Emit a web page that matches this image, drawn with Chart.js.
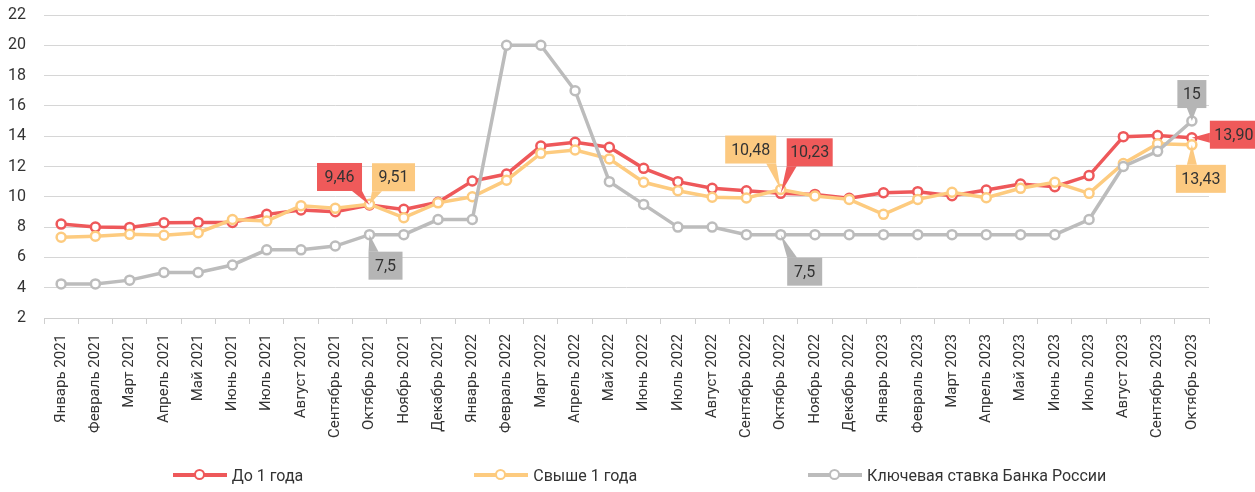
<!DOCTYPE html>
<html>
<head>
<meta charset="utf-8">
<script src="https://cdn.jsdelivr.net/npm/chart.js@4"></script>
<style>
  body { margin: 0; background: #fff; }
  #wrap { position: relative; width: 1255px; height: 492px; }
  #legend {
    position: absolute; left: 12px; top: 463px; width: 1255px;
    display: flex; justify-content: center; gap: 171px;
    font-family: Roboto, sans-serif; font-size: 16px; color: #333;
  }
  .item { display: flex; align-items: center; white-space: nowrap; }
  .mark { position: relative; width: 54px; height: 24px; margin-right: 5px; }
  .mark .ln { position: absolute; left: 0; right: 0; top: 10px; height: 4px; }
  .mark .pt { position: absolute; left: 21px; top: 6px; width: 7px; height: 7px;
    border-radius: 50%; background: #fff; border: 2.5px solid; }
</style>
</head>
<body>
<div id="wrap">
  <canvas id="chart" width="1255" height="492"></canvas>
  <div id="legend"></div>
</div>
<script>
const months = ['Январь', 'Февраль', 'Март', 'Апрель', 'Май', 'Июнь', 'Июль',
  'Август', 'Сентябрь', 'Октябрь', 'Ноябрь', 'Декабрь'];

const labels = [];
for (let y of [2021, 2022, 2023]) {
  for (let m of months) {
    if (y === 2023 && labels.length >= 34) break;
    labels.push(m + ' ' + y);
  }
}

// До 1 года
const shortRate = [8.2, 8.0, 7.98, 8.29, 8.31, 8.3, 8.84, 9.13, 9.02, 9.46, 9.17, 9.64,
  11.04, 11.5, 13.35, 13.6, 13.27, 11.88, 11.0, 10.56, 10.4, 10.23, 10.16, 9.9,
  10.27, 10.34, 10.07, 10.45, 10.84, 10.67, 11.4, 13.97, 14.04, 13.90];

// Свыше 1 года
const longRate = [7.33, 7.4, 7.52, 7.46, 7.63, 8.5, 8.4, 9.41, 9.24, 9.51, 8.62, 9.6,
  10.0, 11.1, 12.87, 13.09, 12.5, 10.96, 10.4, 9.97, 9.92, 10.48, 10.05, 9.83,
  8.84, 9.83, 10.3, 9.94, 10.56, 10.96, 10.23, 12.2, 13.5, 13.43];

// Ключевая ставка Банка России
const keyRate = [4.25, 4.25, 4.5, 5, 5, 5.5, 6.5, 6.5, 6.75, 7.5, 7.5, 8.5,
  8.5, 20, 20, 17, 11, 9.5, 8, 8, 7.5, 7.5, 7.5, 7.5,
  7.5, 7.5, 7.5, 7.5, 7.5, 7.5, 8.5, 12, 13, 15];

const red = 'rgb(238,88,90)';
const yellow = 'rgb(253,203,127)';
const grey = 'rgb(188,188,188)';

// callouts: dataset, index, text, box offset from point (centre), box width
const callouts = [
  {ds: 0, i: 9, text: '9,46', dx: -30, dy: -28, w: 45},
  {ds: 1, i: 9, text: '9,51', dx: 24, dy: -27, w: 43},
  {ds: 2, i: 9, text: '7,5', dx: 16, dy: 31, w: 34},
  {ds: 1, i: 21, text: '10,48', dx: -30, dy: -40, w: 51},
  {ds: 0, i: 21, text: '10,23', dx: 29, dy: -41, w: 46},
  {ds: 2, i: 21, text: '7,5', dx: 24, dy: 37, w: 35},
  {ds: 2, i: 33, text: '15', dx: 0, dy: -27, w: 29},
  {ds: 0, i: 33, text: '13,90', dx: 42, dy: -3, w: 48},
  {ds: 1, i: 33, text: '13,43', dx: 9, dy: 34, w: 50}
];
const boxColors = ['rgb(239,90,90)', 'rgb(252,201,128)', 'rgb(181,181,181)'];

const calloutPlugin = {
  id: 'callouts',
  afterDatasetsDraw(chart) {
    const ctx = chart.ctx;
    ctx.save();
    ctx.font = '16px Roboto, sans-serif';
    ctx.textAlign = 'center';
    ctx.textBaseline = 'middle';
    for (let c of callouts) {
      const p = chart.getDatasetMeta(c.ds).data[c.i];
      const h = 28;
      const cx = p.x + c.dx, cy = p.y + c.dy;
      const l = cx - c.w / 2, r = cx + c.w / 2, t = cy - h / 2, b = cy + h / 2;
      ctx.fillStyle = boxColors[c.ds];
      ctx.fillRect(l, t, c.w, h);
      // wedge
      ctx.beginPath();
      if (p.y > b || p.y < t) {
        const ey = p.y > b ? b : t;
        let x0 = Math.min(Math.max(p.x - 5, l), r - 10);
        ctx.moveTo(x0, ey);
        ctx.lineTo(x0 + 10, ey);
      } else {
        const ex = p.x < l ? l : r;
        let y0 = Math.min(Math.max(p.y - 5, t), b - 10);
        ctx.moveTo(ex, y0);
        ctx.lineTo(ex, y0 + 10);
      }
      ctx.lineTo(p.x, p.y);
      ctx.closePath();
      ctx.fill();
      ctx.fillStyle = '#333';
      ctx.fillText(c.text, cx, cy + 1);
    }
    ctx.restore();
  }
};

function series(label, values, color, order) {
  return {
    label: label,
    data: values,
    borderColor: color,
    backgroundColor: '#fff',
    borderWidth: 3.5,
    pointRadius: 4.5,
    pointBorderWidth: 2.5,
    pointBackgroundColor: '#fff',
    pointBorderColor: color,
    tension: 0,
    order: order
  };
}

const data = {
  labels: labels,
  datasets: [
    series('До 1 года', shortRate, red, 3),
    series('Свыше 1 года', longRate, yellow, 2),
    series('Ключевая ставка Банка России', keyRate, grey, 1)
  ]
};

const config = {
  type: 'line',
  data: data,
  options: {
    responsive: false,
    animation: false,
    layout: { padding: { top: 15, right: 46, bottom: 44, left: 0 } },
    plugins: {
      legend: { display: false },
      tooltip: { enabled: false }
    },
    scales: {
      x: {
        offset: true,
        grid: { offset: true, drawOnChartArea: false, drawTicks: true, tickLength: 6, color: '#cfcfcf' },
        border: { color: '#cfcfcf' },
        ticks: {
          autoSkip: false, minRotation: 90, maxRotation: 90, padding: 10,
          color: '#333', font: { family: 'Roboto, sans-serif', size: 15 }
        },
        afterFit(scale) { scale.height = 130; }
      },
      y: {
        min: 2, max: 22,
        grid: { color: '#d6d6d6', drawTicks: false },
        border: { display: false },
        ticks: {
          stepSize: 2, padding: 18, color: '#333',
          font: { family: 'Roboto, sans-serif', size: 16 }
        },
        afterFit(scale) {
          scale.width = 44;
          scale.paddingTop = 0;
          scale.paddingBottom = 0;
        }
      }
    }
  },
  plugins: [calloutPlugin]
};

var chart = new Chart(document.getElementById('chart'), config);

// legend
const legendBox = document.getElementById('legend');
for (let ds of data.datasets) {
  const item = document.createElement('div');
  item.className = 'item';
  item.innerHTML = '<span class="mark"><span class="ln" style="background:' + ds.borderColor +
    '"></span><span class="pt" style="border-color:' + ds.borderColor + '"></span></span>' +
    '<span>' + ds.label + '</span>';
  legendBox.appendChild(item);
}
</script>
</body>
</html>
